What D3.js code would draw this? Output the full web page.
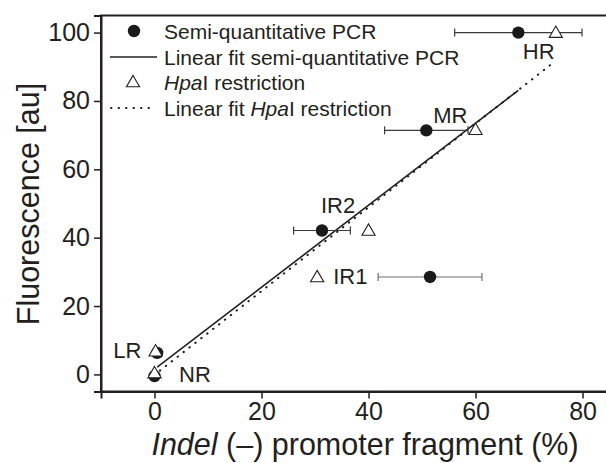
<!DOCTYPE html>
<html lang="en">
<head>
<meta charset="UTF-8">
<title>Fluorescence vs indel (-) promoter fragment</title>
<script src="https://cdn.jsdelivr.net/npm/d3@7"></script>
<style>
  body { margin: 0; background: #fff; }
  svg { display: block; font-family: "Liberation Sans", Arial, sans-serif; }
  .axis text { fill: #231f20; }
</style>
</head>
<body>
<div id="chart"></div>
<script>
// values
var samples = ["NR", "LR", "IR1", "IR2", "MR", "HR"];
var pcrX   = [0, 0.5, 51.5, 31.3, 50.8, 68];
var pcrY   = [-0.5, 6.3, 28.5, 42.1, 71.4, 100];
var pcrErr = [0, 0, 9.7, 5.3, 7.8, 11.9];
var hpaX   = [0, 0.2, 30.4, 40, 60, 75];
var hpaY   = [0.4, 6.8, 28.5, 42.1, 71.6, 100];

// fitted lines (end points as drawn)
var fitPcrX = [0.5, 68],  fitPcrY = [2.1, 83.1];
var fitHpaX = [1, 74.7],  fitHpaY = [1.1, 91.4];

var xTicks = [0, 20, 40, 60, 80];
var yTicks = [0, 20, 40, 60, 80, 100];

// where the sample names sit (data units)
var labelX = [4.6, -5.1, 33.4, 34.3, 55.3, 71.8];
var labelY = [-2.3, 4.9, 26.5, 47.2, 73.5, 92.2];
var labelAnchor = ["start", "middle", "start", "middle", "middle", "middle"];

var width = 606, height = 463;

var svg = d3.select("#chart")
  .append("svg")
    .attr("width", width)
    .attr("height", height);

var x = d3.scaleLinear().domain([-10, 85]).range([101, 609.3]);
var y = d3.scaleLinear().domain([-5, 105]).range([391.5, 15.5]);

var ink = "#231f20";

// frame (top + right border, right one falls outside the window)
svg.append("rect")
  .attr("x", x(-10))
  .attr("y", y(105))
  .attr("width", x(85) - x(-10))
  .attr("height", y(-5) - y(105))
  .attr("fill", "none")
  .attr("stroke", ink)
  .attr("stroke-width", 2);

// axes
var xAxis = svg.append("g")
  .attr("class", "axis")
  .attr("transform", "translate(0," + y(-5) + ")")
  .call(d3.axisBottom(x).tickValues(xTicks).tickSize(7).tickPadding(4))
xAxis.select(".domain").attr("stroke", ink).attr("stroke-width", 2);
xAxis.selectAll(".tick line").attr("stroke", ink).attr("stroke-width", 1.5);
xAxis.selectAll("text").style("font-size", "25px");

var yAxis = svg.append("g")
  .attr("class", "axis")
  .attr("transform", "translate(" + x(-10) + ",0)")
  .call(d3.axisLeft(y).tickValues(yTicks).tickSize(7).tickPadding(4))
yAxis.select(".domain").attr("stroke", ink).attr("stroke-width", 2);
yAxis.selectAll(".tick line").attr("stroke", ink).attr("stroke-width", 1.5);
yAxis.selectAll("text").style("font-size", "25px");

// axis titles
var xt = svg.append("text")
  .attr("x", 365)
  .attr("y", 455)
  .attr("text-anchor", "middle")
  .style("font-size", "30.5px")
  .style("fill", ink);
xt.append("tspan").style("font-style", "italic").text("Indel");
xt.append("tspan").text(" (\u2013) promoter fragment (%)");

svg.append("text")
  .attr("transform", "translate(39,204) rotate(-90)")
  .attr("text-anchor", "middle")
  .style("font-size", "30.5px")
  .style("fill", ink)
  .text("Fluorescence [au]");

// linear fits
var line = d3.line()
  .x(function(d) { return x(d[0]); })
  .y(function(d) { return y(d[1]); });

svg.append("path")
  .datum(d3.zip(fitHpaX, fitHpaY))
  .attr("d", line)
  .attr("fill", "none")
  .attr("stroke", ink)
  .attr("stroke-width", 2)
  .attr("stroke-linecap", "round")
  .attr("stroke-dasharray", "0.5,7");

svg.append("path")
  .datum(d3.zip(fitPcrX, fitPcrY))
  .attr("d", line)
  .attr("fill", "none")
  .attr("stroke", ink)
  .attr("stroke-width", 1.6);

var idx = d3.range(samples.length);

// error bars
var bars = svg.append("g")
  .selectAll("g")
  .data(idx.filter(function(i) { return pcrErr[i] > 0; }))
  .enter().append("g")
    .attr("stroke", function(i) { return samples[i] == "IR1" ? "#6d6e71" : "#3a3a3a"; })
    .attr("stroke-width", 1.2);
bars.append("line")
  .attr("x1", function(i) { return x(pcrX[i] - pcrErr[i]); })
  .attr("x2", function(i) { return x(pcrX[i] + pcrErr[i]); })
  .attr("y1", function(i) { return y(pcrY[i]); })
  .attr("y2", function(i) { return y(pcrY[i]); });
[-1, 1].forEach(function(s) {
  bars.append("line")
    .attr("x1", function(i) { return x(pcrX[i] + s * pcrErr[i]); })
    .attr("x2", function(i) { return x(pcrX[i] + s * pcrErr[i]); })
    .attr("y1", function(i) { return y(pcrY[i]) - 4; })
    .attr("y2", function(i) { return y(pcrY[i]) + 4; });
});

// semi-quantitative PCR points
svg.append("g")
  .selectAll("circle")
  .data(idx)
  .enter().append("circle")
    .attr("cx", function(i) { return x(pcrX[i]); })
    .attr("cy", function(i) { return y(pcrY[i]); })
    .attr("r", 6.2)
    .attr("fill", "#1a1a1a");

// HpaI restriction points (open triangles)
var tri = d3.symbol().type(d3.symbolTriangle).size(75);
svg.append("g")
  .selectAll("path")
  .data(idx)
  .enter().append("path")
    .attr("d", tri)
    .attr("transform", function(i) { return "translate(" + x(hpaX[i]) + "," + (y(hpaY[i]) + 1) + ")"; })
    .attr("fill", "#fff")
    .attr("stroke", ink)
    .attr("stroke-width", 1.1);

// sample names
svg.append("g")
  .selectAll("text")
  .data(idx)
  .enter().append("text")
    .attr("x", function(i) { return x(labelX[i]); })
    .attr("y", function(i) { return y(labelY[i]); })
    .attr("text-anchor", function(i) { return labelAnchor[i]; })
    .style("font-size", "22px")
    .style("fill", ink)
    .text(function(i) { return samples[i]; });

// legend
var legend = svg.append("g").style("font-size", "21px").style("fill", ink);
var rowY = [31, 57, 82, 108];
var textX = 164;

legend.append("circle").attr("cx", 134).attr("cy", rowY[0]).attr("r", 6.2).attr("fill", "#1a1a1a");
legend.append("line").attr("x1", 110).attr("x2", 157).attr("y1", rowY[1]).attr("y2", rowY[1])
  .attr("stroke", ink).attr("stroke-width", 1.6);
legend.append("path").attr("d", tri)
  .attr("transform", "translate(133," + (rowY[2] + 1) + ")")
  .attr("fill", "#fff").attr("stroke", ink).attr("stroke-width", 1.1);
legend.append("line").attr("x1", 111).attr("x2", 152).attr("y1", rowY[3]).attr("y2", rowY[3])
  .attr("stroke", ink).attr("stroke-width", 2).attr("stroke-linecap", "round")
  .attr("stroke-dasharray", "0.5,7");

legend.append("text").attr("x", textX).attr("y", rowY[0] + 7.5).text("Semi-quantitative PCR");
legend.append("text").attr("x", textX).attr("y", rowY[1] + 7.5).text("Linear fit semi-quantitative PCR");
var l3 = legend.append("text").attr("x", textX).attr("y", rowY[2] + 7.5);
l3.append("tspan").style("font-style", "italic").text("Hpa");
l3.append("tspan").text("I restriction");
var l4 = legend.append("text").attr("x", textX).attr("y", rowY[3] + 7.5);
l4.append("tspan").text("Linear fit ");
l4.append("tspan").style("font-style", "italic").text("Hpa");
l4.append("tspan").text("I restriction");
</script>
</body>
</html>
